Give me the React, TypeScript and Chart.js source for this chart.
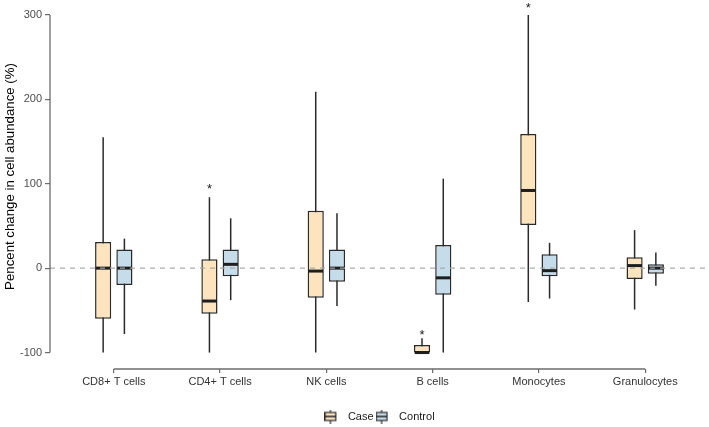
import React, { useEffect, useRef } from 'react';
import { Chart, registerables } from 'chart.js';

Chart.register(...registerables);

const categories = ['CD8+ T cells', 'CD4+ T cells', 'NK cells', 'B cells', 'Monocytes', 'Granulocytes'];

const caseMin = [-100, -100, -100, -100, -40, -49];
const caseQ1 = [-60, -54, -35, -100, 51, -13];
const caseMedian = [0, -39, -3.5, -100, 92, 3];
const caseQ3 = [31, 10.5, 68, -91, 159, 13];
const caseMax = [155, 84, 209, -83, 300, 45];

const controlMin = [-78, -38, -45, -100, -36, -21];
const controlQ1 = [-20, -9.5, -16, -31.5, -9.5, -6.7];
const controlMedian = [0, 4.5, 0, -11.5, -3, 0];
const controlQ3 = [22, 22, 22, 27.5, 16.5, 4.7];
const controlMax = [35, 59, 65, 106, 30, 18.5];

// significance stars (placed above the Case boxes)
const caseStars: (number | null)[] = [null, 97.5, null, -75, 312, null];

const yTicks = [-100, 0, 100, 200, 300];
const seriesNames = ['Case', 'Control'];
const yTitle = 'Pencent change in cell abundance (%)';

const CASE_FILL = '#fde4bd';
const CONTROL_FILL = '#c5dcea';
const LINE = '#2a2a2a';
const AXIS = '#6b6b6b';
const FONT = 'Liberation Sans, Arial, Helvetica, sans-serif';

const groups = [
  { min: caseMin, q1: caseQ1, med: caseMedian, q3: caseQ3, max: caseMax },
  { min: controlMin, q1: controlQ1, med: controlMedian, q3: controlQ3, max: controlMax },
];

function makeGlyph(fill: string): HTMLCanvasElement {
  const c = document.createElement('canvas');
  c.width = 18;
  c.height = 14;
  const g = c.getContext('2d')!;
  g.strokeStyle = LINE;
  g.lineWidth = 1.2;
  g.beginPath();
  g.moveTo(6, 0);
  g.lineTo(6, 14);
  g.stroke();
  g.fillStyle = fill;
  g.fillRect(0.6, 3, 10.8, 8);
  g.strokeRect(0.6, 3, 10.8, 8);
  g.lineWidth = 1.6;
  g.beginPath();
  g.moveTo(0.6, 7);
  g.lineTo(11.4, 7);
  g.stroke();
  return c;
}

const boxPlugin = {
  id: 'boxExtras',
  beforeDatasetsDraw(chart: any) {
    const y = chart.scales.y;
    const ctx = chart.ctx;
    ctx.save();
    ctx.strokeStyle = LINE;
    ctx.lineWidth = 1.5;
    groups.forEach((g, di) => {
      const meta = chart.getDatasetMeta(di);
      meta.data.forEach((el: any, j: number) => {
        ctx.beginPath();
        ctx.moveTo(el.x, y.getPixelForValue(g.min[j]));
        ctx.lineTo(el.x, y.getPixelForValue(g.max[j]));
        ctx.stroke();
      });
    });
    ctx.restore();
  },
  afterDatasetsDraw(chart: any) {
    const x = chart.scales.x;
    const y = chart.scales.y;
    const ctx = chart.ctx;
    const area = chart.chartArea;
    ctx.save();
    // medians
    ctx.strokeStyle = '#1e1e1e';
    ctx.lineWidth = 3;
    groups.forEach((g, di) => {
      const meta = chart.getDatasetMeta(di);
      meta.data.forEach((el: any, j: number) => {
        const py = y.getPixelForValue(g.med[j]);
        const w = el.width / 2 - 0.75;
        ctx.beginPath();
        ctx.moveTo(el.x - w, py);
        ctx.lineTo(el.x + w, py);
        ctx.stroke();
      });
    });
    // dashed zero line
    ctx.strokeStyle = '#a8a8a8';
    ctx.lineWidth = 1.2;
    ctx.setLineDash([5, 5]);
    const zy = y.getPixelForValue(0);
    ctx.beginPath();
    ctx.moveTo(area.left, zy);
    ctx.lineTo(area.right, zy);
    ctx.stroke();
    ctx.setLineDash([]);
    // axis lines
    ctx.strokeStyle = AXIS;
    ctx.lineWidth = 1.3;
    ctx.beginPath();
    ctx.moveTo(area.left, y.getPixelForValue(yTicks[0]));
    ctx.lineTo(area.left, y.getPixelForValue(yTicks[yTicks.length - 1]));
    ctx.stroke();
    ctx.beginPath();
    ctx.moveTo(x.getPixelForValue(1), area.bottom);
    ctx.lineTo(x.getPixelForValue(categories.length), area.bottom);
    ctx.stroke();
    // stars
    ctx.fillStyle = '#1a1a1a';
    ctx.font = `13px ${FONT}`;
    ctx.textAlign = 'center';
    ctx.textBaseline = 'alphabetic';
    const meta0 = chart.getDatasetMeta(0);
    caseStars.forEach((s, j) => {
      if (s === null) return;
      const el: any = meta0.data[j];
      ctx.fillText('*', el.x, y.getPixelForValue(s) + 7.5);
    });
    // y axis title
    ctx.save();
    ctx.translate(14, 176.5);
    ctx.rotate(-Math.PI / 2);
    ctx.fillStyle = '#000000';
    ctx.font = `13.25px ${FONT}`;
    ctx.textAlign = 'center';
    ctx.textBaseline = 'alphabetic';
    ctx.fillText(yTitle, 0, 0);
    ctx.restore();
    ctx.restore();
  },
};

export default function App() {
  const ref = useRef<HTMLCanvasElement>(null);
  useEffect(() => {
    document.body.style.margin = '0';
    const glyphs = [makeGlyph(CASE_FILL), makeGlyph(CONTROL_FILL)];
    const fills = [CASE_FILL, CONTROL_FILL];
    const chart = new Chart(ref.current!, {
      type: 'bar',
      data: {
        datasets: groups.map((g, di) => ({
          label: seriesNames[di],
          data: categories.map((_, i) => ({ x: i + 1, y: [g.q1[i], g.q3[i]] })) as any,
          backgroundColor: fills[di],
          borderColor: LINE,
          borderWidth: 1.5,
          borderSkipped: false,
          categoryPercentage: 0.4,
          barPercentage: 0.76,
        })),
      },
      options: {
        animation: false,
        responsive: true,
        maintainAspectRatio: false,
        layout: { padding: { top: 0, left: 0, right: 0, bottom: 0 } },
        scales: {
          x: {
            type: 'linear',
            min: 0.4,
            max: 6.6,
            offset: false,
            afterBuildTicks: (s: any) => {
              s.ticks = categories.map((_, i) => ({ value: i + 1 }));
            },
            afterFit: (s: any) => {
              s.height = 40;
            },
            ticks: {
              callback: (v: any) => categories[Number(v) - 1],
              font: { family: FONT, size: 11 },
              color: '#333333',
              padding: 2,
              autoSkip: false,
              maxRotation: 0,
            },
            grid: { display: true, offset: false, drawOnChartArea: false, drawTicks: true, tickLength: 4, color: AXIS, lineWidth: 1.2 },
            border: { display: false },
          },
          y: {
            type: 'linear',
            min: -119.5,
            max: 306.26,
            afterBuildTicks: (s: any) => {
              s.ticks = yTicks.map((v) => ({ value: v }));
            },
            afterFit: (s: any) => {
              s.width = 50;
            },
            ticks: {
              font: { family: FONT, size: 11 },
              color: '#4d4d4d',
              padding: 3,
            },
            grid: { display: true, drawOnChartArea: false, drawTicks: true, tickLength: 5, color: AXIS, lineWidth: 1.2 },
            border: { display: false },
          },
        },
        plugins: {
          legend: {
            position: 'bottom',
            fullSize: false,
            maxHeight: 18,
            labels: {
              usePointStyle: true,
              pointStyleWidth: 18,
              padding: 2,
              font: { family: FONT, size: 11 },
              color: '#1a1a1a',
              generateLabels: () =>
                seriesNames.map((n, i) => ({
                  text: n,
                  pointStyle: glyphs[i] as any,
                  hidden: false,
                  datasetIndex: i,
                  fillStyle: fills[i],
                  strokeStyle: LINE,
                  lineWidth: 0,
                  fontColor: '#1a1a1a',
                })),
            },
          },
          tooltip: { enabled: false },
        },
      },
      plugins: [boxPlugin],
    });
    return () => chart.destroy();
  }, []);
  return (
    <div style={{ width: 709, height: 427, position: 'relative' }}>
      <canvas ref={ref} />
    </div>
  );
}
